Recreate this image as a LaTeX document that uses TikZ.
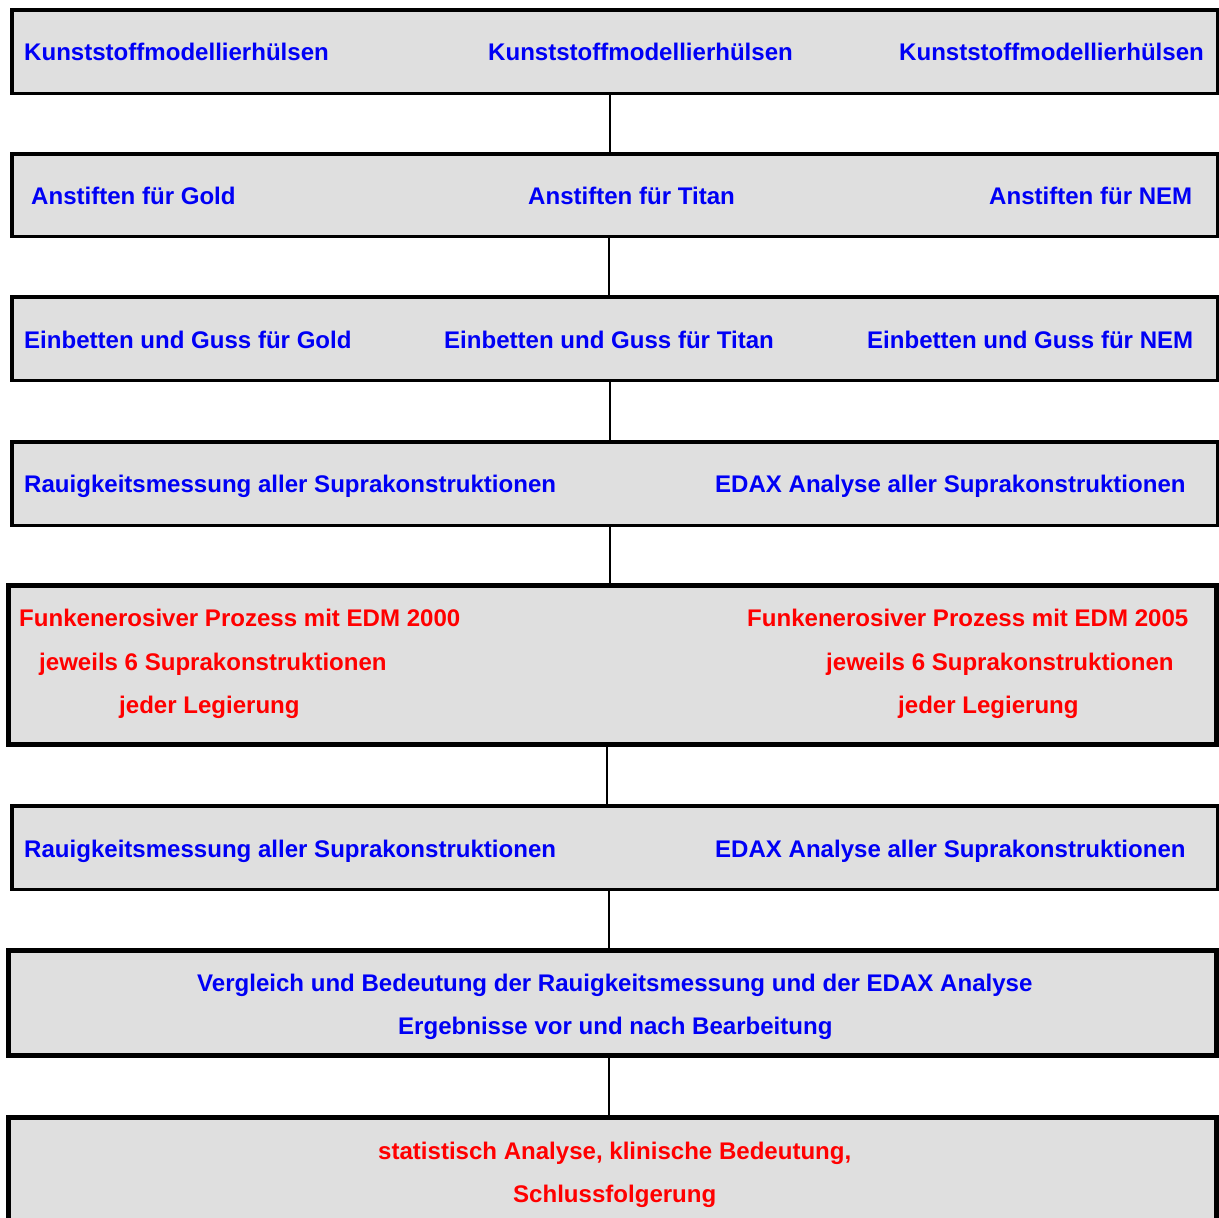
\documentclass[tikz,border=0pt]{standalone}
\usepackage{fontspec}
\setmainfont{Liberation Sans}
\definecolor{boxgray}{RGB}{223,223,223}
\definecolor{tblue}{RGB}{0,0,245}
\definecolor{tred}{RGB}{255,0,0}
\tikzset{
  box/.style={draw=black, fill=boxgray, inner sep=0pt, line width=3.5pt},
  thickbox/.style={box, line width=5pt},
  conn/.style={draw=black, line width=2pt},
  bt/.style={anchor=base west, inner sep=0pt, text=tblue, font=\fontsize{24.05}{26}\selectfont\bfseries},
  rt/.style={bt, text=tred},
}
\begin{document}
\begin{tikzpicture}[x=1pt,y=-1pt]
\useasboundingbox (0,0) rectangle (1219,1218);
% boxes
\node[box, minimum width=1205.5pt, minimum height=83.5pt] (b1) at (614.5,51.5) {};
\node[box, minimum width=1205.5pt, minimum height=82.5pt] (b2) at (614.5,195) {};
\node[box, minimum width=1205.5pt, minimum height=83.5pt] (b3) at (614.5,338.5) {};
\node[box, minimum width=1205.5pt, minimum height=83.5pt] (b4) at (614.5,483.5) {};
\node[thickbox, minimum width=1208pt, minimum height=159pt] (b5) at (612.5,665) {};
\node[box, minimum width=1205.5pt, minimum height=83.5pt] (b6) at (614.5,847.5) {};
\node[thickbox, minimum width=1208pt, minimum height=105pt] (b7) at (612.5,1003) {};
\node[thickbox, minimum width=1208pt, minimum height=105pt] (b8) at (612.5,1170) {};
% connector x positions
\coordinate (x1) at (610,0);
\coordinate (x2) at (609,0);
\coordinate (x3) at (610,0);
\coordinate (x4) at (609.5,0);
\coordinate (x5) at (607,0);
\coordinate (x6) at (609,0);
\coordinate (x7) at (609,0);
\draw[conn] (b1.south -| x1) -- (b2.north -| x1);
\draw[conn] (b2.south -| x2) -- (b3.north -| x2);
\draw[conn] (b3.south -| x3) -- (b4.north -| x3);
\draw[conn] (b4.south -| x4) -- (b5.north -| x4);
\draw[conn] (b5.south -| x5) -- (b6.north -| x5);
\draw[conn] (b6.south -| x6) -- (b7.north -| x6);
\draw[conn] (b7.south -| x7) -- (b8.north -| x7);
% texts
\node[bt] (t11) at (24,60) {Kunststoffmodellierhülsen};
\node[bt] (t12) at (488,60) {Kunststoffmodellierhülsen};
\node[bt] (t13) at (899,60) {Kunststoffmodellierhülsen};
\node[bt] (t21) at (31,204) {Anstiften für Gold};
\node[bt] (t22) at (528,204) {Anstiften für Titan};
\node[bt] (t23) at (989,204) {Anstiften für NEM};
\node[bt] (t31) at (24,348.5) {Einbetten und Guss für Gold};
\node[bt] (t32) at (444,348.5) {Einbetten und Guss für Titan};
\node[bt] (t33) at (867,348.5) {Einbetten und Guss für NEM};
\node[bt] (t41) at (24,492.5) {Rauigkeitsmessung aller Suprakonstruktionen};
\node[bt] (t42) at (715,492.5) {EDAX Analyse aller Suprakonstruktionen};
\node[rt] (t51) at (19,626.5) {Funkenerosiver Prozess mit EDM 2000};
\node[rt] (t52) at (39,670.5) {jeweils 6 Suprakonstruktionen};
\node[rt] (t53) at (119,713.5) {jeder Legierung};
\node[rt] (t54) at (747,626.5) {Funkenerosiver Prozess mit EDM 2005};
\node[rt] (t55) at (826,670.5) {jeweils 6 Suprakonstruktionen};
\node[rt] (t56) at (898,713.5) {jeder Legierung};
\node[bt] (t61) at (24,857.5) {Rauigkeitsmessung aller Suprakonstruktionen};
\node[bt] (t62) at (715,857.5) {EDAX Analyse aller Suprakonstruktionen};
\node[bt] (t71) at (197,991.5) {Vergleich und Bedeutung der Rauigkeitsmessung und der EDAX Analyse};
\node[bt] (t72) at (398,1034.5) {Ergebnisse vor und nach Bearbeitung};
\node[rt] (t81) at (378,1159.5) {statistisch Analyse, klinische Bedeutung,};
\node[rt] (t82) at (513,1202.5) {Schlussfolgerung};
\end{tikzpicture}
\end{document}
